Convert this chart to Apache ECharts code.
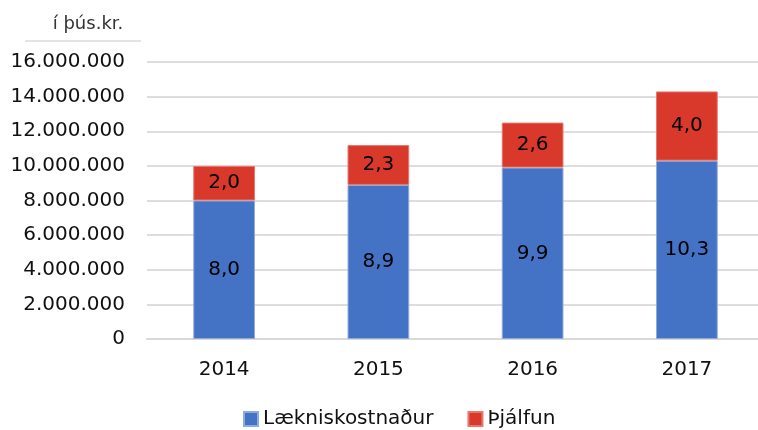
<!DOCTYPE html>
<html>
<head>
<meta charset="utf-8">
<script src="https://cdn.jsdelivr.net/npm/echarts@6/dist/echarts.min.js"></script>
<style>
    html, body { margin: 0; padding: 0; background: #fff; }
    #chart { width: 758px; height: 430px; }
</style>
</head>
<body>
<div id="chart"></div>
<script>
// gögn í þús.kr.
var years = ['2014', '2015', '2016', '2017'];
var laeknis = [8000000, 8900000, 9900000, 10300000];
var thjalfun = [2000000, 2300000, 2600000, 4000000];
var seriesNames = ['Lækniskostnaður', 'Þjálfun'];

var font = 'DejaVu Sans';

// 16000000 -> 16.000.000
var fmtThousands = function(v) {
    return String(v).replace(/\B(?=(\d{3})+(?!\d))/g, '.');
};
// 8900000 -> 8,9
var fmtMillions = function(p) {
    return (p.value / 1000000).toFixed(1).replace('.', ',');
};

var chart = echarts.init(document.getElementById('chart'));
var option = {
    animation: false,
    color: ['#4472c4', '#d9392a'],
    title: {
        text: 'í þús.kr.',
        left: 83,
        top: 10,
        textAlign: 'center',
        textStyle: { fontFamily: font, fontSize: 18, fontWeight: 'normal', color: '#333' }
    },
    graphic: [{
        type: 'line',
        shape: { x1: 25, y1: 41, x2: 141, y2: 41 },
        style: { stroke: '#c8c8c8', lineWidth: 1 }
    }],
    legend: {
        data: seriesNames,
        top: 409,
        left: 243,
        padding: 0,
        itemWidth: 14,
        itemHeight: 14,
        itemGap: 34,
        icon: 'rect',
        textStyle: { fontFamily: font, fontSize: 20, color: '#111' }
    },
    grid: {
        left: 147,
        width: 617,
        top: 62,
        bottom: 91,
        containLabel: false,
        outerBoundsMode: 'none'
    },
    xAxis: {
        type: 'category',
        data: years,
        axisTick: { show: false },
        axisLine: { lineStyle: { color: '#d9d9d9', width: 2 } },
        axisLabel: { margin: 21, fontFamily: font, fontSize: 20, color: '#111' }
    },
    yAxis: {
        type: 'value',
        min: 0,
        max: 16000000,
        interval: 2000000,
        axisLine: { show: false },
        axisTick: { show: false },
        axisLabel: {
            margin: 22,
            fontFamily: font,
            fontSize: 20,
            color: '#111',
            formatter: fmtThousands
        },
        splitLine: { lineStyle: { color: '#dddddd', width: 2 } }
    },
    series: [{
        name: seriesNames[0],
        type: 'bar',
        stack: 'total',
        barWidth: '40%',
        data: laeknis,
        itemStyle: { borderColor: '#8faadc', borderWidth: 1 },
        label: {
            show: true,
            position: 'inside',
            fontFamily: font,
            fontSize: 20,
            color: '#000',
            formatter: fmtMillions
        }
    }, {
        name: seriesNames[1],
        type: 'bar',
        stack: 'total',
        barWidth: '40%',
        data: thjalfun,
        itemStyle: { borderColor: '#e8766a', borderWidth: 1 },
        label: {
            show: true,
            position: 'inside',
            fontFamily: font,
            fontSize: 20,
            color: '#000',
            formatter: fmtMillions
        }
    }]
};
chart.setOption(option);
</script>
</body>
</html>
